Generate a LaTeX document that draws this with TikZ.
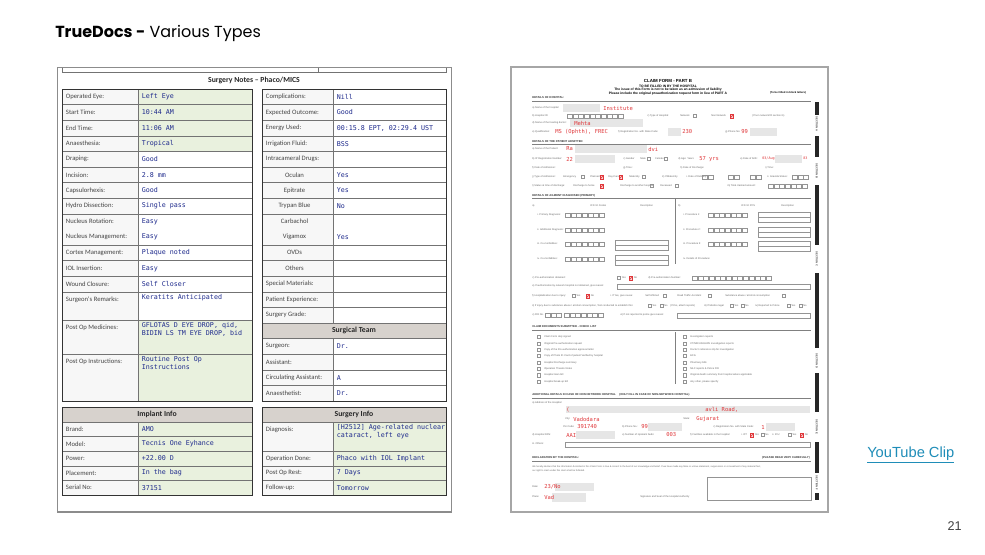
\documentclass[tikz,border=0pt]{standalone}
\usepackage{fontspec}
\setmainfont{Liberation Sans}
\newfontfamily\carl{Carlito}
\newfontfamily\dmono{DejaVu Sans Mono}
\newfontfamily\popp{Poppins}
\definecolor{valblue}{HTML}{1E2A8C}
\definecolor{labgray}{HTML}{444444}
\definecolor{greenfill}{HTML}{E9F1DE}
\definecolor{labfill}{HTML}{F7F7F7}
\definecolor{hdrfill}{HTML}{D7D2CD}
\definecolor{framegray}{HTML}{8C8C8C}
\definecolor{formred}{HTML}{E0383B}
\definecolor{redact}{HTML}{E6E6E6}
\definecolor{linkteal}{HTML}{1F8DB8}
\tikzset{
  lab/.style={font=\carl\fontsize{5}{6}\selectfont, text=labgray, anchor=west, inner sep=0},
  val/.style={font=\dmono\fontsize{5}{6}\selectfont, text=valblue, anchor=west, inner sep=0, align=left},
  hdr/.style={font=\carl\bfseries\fontsize{5.8}{7}\selectfont, text=black!85, inner sep=0},
  cell/.style={draw=black!55, line width=0.4pt},
  tborder/.style={draw=black!80, line width=0.7pt},
  fl/.style={font=\fontsize{1.9}{2.2}\selectfont, text=black!60, anchor=west, inner sep=0},
  fh/.style={font=\bfseries\fontsize{2.1}{2.4}\selectfont, text=black!80, anchor=west, inner sep=0},
  fr/.style={font=\dmono\fontsize{4.1}{4.5}\selectfont, text=formred, anchor=west, inner sep=0},
  bx/.style={draw=black!42, line width=0.25pt},
  fline/.style={draw=black!50, line width=0.4pt},
  sect/.style={rotate=-90, font=\bfseries\fontsize{2}{2}\selectfont, text=black!75, inner sep=0},
}
\newcommand\cellrow[8]{%
  \pgfmathsetmacro\ymid{(#4+#5)/2}
  \fill[labfill] (#1,#4) rectangle (#2,#5);
  \fill[#6] (#2,#4) rectangle (#3,#5);
  \draw[cell] (#1,#4) rectangle (#3,#5) (#2,#4) -- (#2,#5);
  \node[lab] at ({#1+3.7},\ymid) {#7};
  \node[val] at ({#2+3.5},\ymid) {#8};
}
\newcommand\cellrowc[8]{%
  \pgfmathsetmacro\ymid{(#4+#5)/2}
  \fill[labfill] (#1,#4) rectangle (#2,#5);
  \fill[#6] (#2,#4) rectangle (#3,#5);
  \draw[cell] (#1,#4) rectangle (#3,#5) (#2,#4) -- (#2,#5);
  \node[lab, anchor=center] at ({(#1+#2)/2-3},\ymid) {#7};
  \node[val] at ({#2+3.5},\ymid) {#8};
}
\newcommand\cellrowt[8]{%
  \fill[labfill] (#1,#4) rectangle (#2,#5);
  \fill[#6] (#2,#4) rectangle (#3,#5);
  \draw[cell] (#1,#4) rectangle (#3,#5) (#2,#4) -- (#2,#5);
  \node[lab] at ({#1+3.7},{#4+8}) {#7};
  \node[val, anchor=north west] at ({#2+3.5},{#4+2}) {#8};
}
\newcommand\flab[3]{\node[fl] at (#1,#2) {#3};}
\newcommand\fred[3]{\node[fr] at (#1,#2) {#3};}
\newcommand\ckb[2]{\draw[bx] ({#1},{#2-1.6}) rectangle ++(3.2,3.2);}
\newcommand\ckr[2]{\draw[formred,fill=formred!20,line width=0.3pt] ({#1},{#2-1.7}) rectangle ++(3.4,3.4);
  \draw[formred,line width=0.4pt] ({#1+0.7},{#2}) -- ({#1+1.5},{#2+1}) -- ({#1+2.8},{#2-1.2});}
\newcommand\bxrow[3]{\foreach \k in {1,...,#3}{\draw[bx] ({#1+(\k-1)*5.7},{#2-2.3}) rectangle ++(5,4.6);}}
\newcommand\rdc[4]{\fill[redact] (#1,#2) rectangle (#3,#4);}
\begin{document}
\begin{tikzpicture}[x=0.75pt,y=-0.75pt]
\useasboundingbox (0,0) rectangle (985,554);
\fill[white] (0,0) rectangle (985,554);

% ---------- slide texts ----------
\node[anchor=west, inner sep=0, font=\popp\fontsize{12}{14}\selectfont] (title) at (55,33) {\textbf{TrueDocs -} Various Types};
\node[anchor=west, inner sep=0, font=\fontsize{11}{13}\selectfont, text=linkteal] (yt) at (867,455) {\underline{YouTube Clip}};
\node[anchor=east, inner sep=0, font=\fontsize{9.5}{11}\selectfont, text=black!75] (pg) at (962,526) {21};

% ---------- left document ----------
\draw[framegray, line width=1.1pt] (57.5,67.5) rectangle (451.5,512);
\draw[cell] (62,67.5) -- (62,72) -- (446,72) -- (446,67.5) (318,67.5) -- (318,72);
\node[hdr] at (254,80.5) {Surgery Notes – Phaco/MICS};

% left column
\cellrow{62}{138}{252}{89}{104.6}{greenfill}{Operated Eye:}{Left Eye}
\cellrow{62}{138}{252}{104.6}{120.2}{greenfill}{Start Time:}{10:44 AM}
\cellrow{62}{138}{252}{120.2}{135.8}{greenfill}{End Time:}{11:06 AM}
\cellrow{62}{138}{252}{135.8}{151.4}{greenfill}{Anaesthesia:}{Tropical}
\cellrow{62}{138}{252}{151.4}{167}{white}{Draping:}{Good}
\cellrow{62}{138}{252}{167}{182.6}{white}{Incision:}{2.8 mm}
\cellrow{62}{138}{252}{182.6}{198.2}{white}{Capsulorhexis:}{Good}
\cellrow{62}{138}{252}{198.2}{213.8}{white}{Hydro Dissection:}{Single pass}
\cellrow{62}{138}{252}{213.8}{245}{white}{}{}
\node[lab] at (65.7,221.6) {Nucleus Rotation:};
\node[val] at (141.5,221.6) {Easy};
\node[lab] at (65.7,237.2) {Nucleus Management:};
\node[val] at (141.5,237.2) {Easy};
\cellrow{62}{138}{252}{245}{260.6}{white}{Cortex Management:}{Plaque noted}
\cellrow{62}{138}{252}{260.6}{276.2}{white}{IOL Insertion:}{Easy}
\cellrow{62}{138}{252}{276.2}{291.8}{white}{Wound Closure:}{Self Closer}
\cellrowt{62}{138}{252}{291.8}{320}{white}{Surgeon's Remarks:}{Keratits Anticipated}
\cellrowt{62}{138}{252}{320}{354.2}{greenfill}{Post Op Medicines:}{GFLOTAS D EYE DROP, qid,\\BIDIN LS TM EYE DROP, bid}
\cellrowt{62}{138}{252}{354.2}{401}{greenfill}{Post Op Instructions:}{Routine Post Op\\Instructions}
\draw[tborder] (62,89) rectangle (252,401);

% right column
\cellrow{262}{333}{446}{89}{104.6}{white}{Complications:}{Nill}
\cellrow{262}{333}{446}{104.6}{120.2}{white}{Expected Outcome:}{Good}
\cellrow{262}{333}{446}{120.2}{135.8}{white}{Energy Used:}{00:15.8 EPT, 02:29.4 UST}
\cellrow{262}{333}{446}{135.8}{151.4}{white}{Irrigation Fluid:}{BSS}
\cellrow{262}{333}{446}{151.4}{167}{white}{Intracameral Drugs:}{}
\cellrowc{262}{333}{446}{167}{182.6}{white}{Oculan}{Yes}
\cellrowc{262}{333}{446}{182.6}{198.2}{white}{Epitrate}{Yes}
\cellrowc{262}{333}{446}{198.2}{213.8}{white}{Trypan Blue}{No}
\cellrow{262}{333}{446}{213.8}{245}{white}{}{}
\node[lab, anchor=center] at (294.5,221.6) {Carbachol};
\node[lab, anchor=center] at (294.5,237.2) {Vigamox};
\node[val] at (336.5,237.2) {Yes};
\cellrowc{262}{333}{446}{245}{260.6}{white}{OVDs}{}
\cellrowc{262}{333}{446}{260.6}{276.2}{white}{Others}{}
\cellrow{262}{333}{446}{276.2}{291.8}{white}{Special Materials:}{}
\cellrow{262}{333}{446}{291.8}{307.4}{white}{Patient Experience:}{}
\cellrow{262}{333}{446}{307.4}{323}{white}{Surgery Grade:}{}
\fill[hdrfill] (262,323) rectangle (446,338.6);
\draw[cell] (262,323) rectangle (446,338.6);
\node[hdr] at (354,330.8) {Surgical Team};
\cellrow{262}{333}{446}{338.6}{354.2}{white}{Surgeon:}{Dr.}
\cellrow{262}{333}{446}{354.2}{369.8}{white}{Assistant:}{}
\cellrow{262}{333}{446}{369.8}{385.4}{white}{Circulating Assistant:}{A}
\cellrow{262}{333}{446}{385.4}{401}{white}{Anaesthetist:}{Dr.}
\draw[tborder] (262,89) rectangle (446,401);

% implant info
\fill[hdrfill] (62,407) rectangle (252,422);
\draw[cell] (62,407) rectangle (252,422);
\node[hdr] at (157,414.5) {Implant Info};
\cellrow{62}{138}{252}{422}{436.6}{greenfill}{Brand:}{AMO}
\cellrow{62}{138}{252}{436.6}{451.2}{greenfill}{Model:}{Tecnis One Eyhance}
\cellrow{62}{138}{252}{451.2}{465.8}{greenfill}{Power:}{+22.00 D}
\cellrow{62}{138}{252}{465.8}{480.4}{greenfill}{Placement:}{In the bag}
\cellrow{62}{138}{252}{480.4}{495}{greenfill}{Serial No:}{37151}
\draw[tborder] (62,407) rectangle (252,495);

% surgery info
\fill[hdrfill] (262,407) rectangle (446,422);
\draw[cell] (262,407) rectangle (446,422);
\node[hdr] at (354,414.5) {Surgery Info};
\cellrowt{262}{333}{446}{422}{451.2}{greenfill}{Diagnosis:}{[H2512] Age-related nuclear\\cataract, left eye}
\cellrow{262}{333}{446}{451.2}{465.8}{greenfill}{Operation Done:}{Phaco with IOL Implant}
\cellrow{262}{333}{446}{465.8}{480.4}{greenfill}{Post Op Rest:}{7 Days}
\cellrow{262}{333}{446}{480.4}{495}{greenfill}{Follow-up:}{Tomorrow}
\draw[tborder] (262,407) rectangle (446,495);

% ---------- claim form ----------
\draw[black!35, line width=1.4pt] (511,67) rectangle (828,512);
\node[font=\bfseries\fontsize{3.3}{3.6}\selectfont, inner sep=0] at (668,81) {CLAIM FORM - PART B};
\node[font=\bfseries\fontsize{2.5}{2.8}\selectfont, inner sep=0] at (668,86) {TO BE FILLED IN BY THE HOSPITAL};
\node[font=\bfseries\fontsize{2.5}{2.8}\selectfont, inner sep=0] at (668,90) {The issue of this Form is not to be taken as an admission of liability};
\node[font=\bfseries\fontsize{2.5}{2.8}\selectfont, inner sep=0] at (668,94) {Please include the original preauthorization request form in lieu of PART A};
\node[font=\bfseries\fontsize{2}{2.3}\selectfont, inner sep=0] at (788,92.5) {(To be Filled in block letters)};

% sidebar
\foreach \a/\b in {102/115, 136/157, 185/245, 273/348, 373/412, 442/473, 493/500}{\fill[black!85] (815,\a) rectangle (818.5,\b);}
\node[sect] at (816.8,124) {SECTION A};
\node[sect] at (816.8,171) {SECTION B};
\node[sect] at (816.8,259) {SECTION C};
\node[sect] at (816.8,361) {SECTION D};
\node[sect] at (816.8,427) {SECTION E};
\node[sect] at (816.8,483) {SECTION F};

% details of hospital
\node[fh] at (532,98) {DETAILS OF HOSPITAL:};
\draw[fline] (532,101) -- (811,101);
\flab{532}{108}{a) Name of the hospital:}
\rdc{563}{104}{600}{112}
\fred{603}{108}{Institute}
\flab{532}{116}{b) Hospital ID:}
\bxrow{567}{116}{10}
\flab{647}{116}{c) Type of Hospital:}
\flab{680}{116}{Network} \ckb{693}{116}
\flab{711}{116}{Non Network} \ckr{730}{116}
\flab{752}{116}{(If non network fill section G)}
\flab{532}{123}{d) Name of the treating doctor:}
\rdc{570}{119}{643}{127}
\fred{574}{123}{Mehta}
\flab{532}{132}{e) Qualification:}
\fred{555}{132}{MS (Ophth), FREC}
\flab{618}{132}{f) Registration No. with State Code:}
\rdc{668}{128}{681}{136}
\fred{682}{132}{230}
\flab{725}{132}{g) Phone No:}
\fred{741}{132}{99}
\rdc{750}{128}{777}{136}

% patient
\node[fh] at (532,142) {DETAILS OF THE PATIENT ADMITTED};
\draw[fline] (532,144) -- (811,144);
\flab{532}{149}{a) Name of the Patient:}
\fred{566}{149}{Ra}
\rdc{575}{145}{647}{153}
\fred{648}{149}{dvi}
\flab{532}{159}{b) IP Registration Number:}
\fred{566}{159}{22}
\rdc{575}{155}{615}{163}
\flab{623}{159}{c) Gender} \flab{640}{159}{Male} \ckb{647}{159}
\flab{655}{159}{Female} \ckb{664}{159}
\flab{678}{159}{d) Age: Years}
\fred{699}{159}{57 yrs}
\flab{740}{159}{e) Date of birth:}
\node[fr, font=\dmono\fontsize{2.6}{3}\selectfont] at (762,158.5) {03/Aug};
\rdc{775}{155}{802}{163}
\node[fr, font=\dmono\fontsize{2.6}{3}\selectfont] at (803,158.5) {83};
\flab{532}{168}{f) Date of Admission:}
\flab{623}{168}{g) Time:}
\flab{680}{168}{h) Date of Discharge:}
\flab{765}{168}{i) Time:}
\flab{532}{177}{j) Type of Admission:}
\flab{563}{177}{Emergency} \ckb{581}{177}
\flab{590}{177}{Planned} \ckr{600}{177}
\flab{608}{177}{Day Care} \ckr{619}{177}
\flab{629}{177}{Maternity} \ckb{642}{177}
\flab{662}{177}{k) If Maternity}
\flab{686}{177}{i. Date of Delivery:}
\bxrow{702}{177}{2} \bxrow{728}{177}{2} \bxrow{750}{177}{2}
\flab{767}{177}{ii. Gravida Status:}
\bxrow{792}{177}{3}
\flab{532}{186}{l) Status at time of discharge:}
\flab{573}{186}{Discharge to home} \ckr{600}{186}
\flab{620}{186}{Discharge to another hospital} \ckb{650}{186}
\flab{660}{186}{Deceased} \ckb{675}{186}
\flab{727}{186}{m) Total claimed amount:}
\bxrow{768}{186}{7}

% ailment
\node[fh] at (532,196) {DETAILS OF AILMENT DIAGNOSED (PRIMARY)};
\draw[fline] (532,198.5) -- (811,198.5);
\draw[fline] (675,198.5) -- (675,264);
\flab{532}{206}{a)} \flab{590}{206}{ICD 10 Codes} \flab{640}{206}{Description}
\flab{678}{206}{b)} \flab{741}{206}{ICD 10 PCS} \flab{781}{206}{Description}
\flab{537}{215}{i. Primary Diagnosis:} \bxrow{565}{215}{7}
\flab{537}{230}{ii. Additional Diagnosis:} \bxrow{565}{230}{7}
\flab{537}{244}{iii. Co-morbidities:} \bxrow{565}{244}{7}
\draw[bx] (615,240) rectangle (668,245) (615,245) rectangle (668,250);
\flab{537}{259}{iv. Co-morbidities:} \bxrow{565}{259}{7}
\draw[bx] (615,255) rectangle (668,260) (615,260) rectangle (668,265);
\flab{683}{215}{i. Procedure 1:} \bxrow{708}{215}{7}
\draw[bx] (758,212) rectangle (810,217) (758,217) rectangle (810,222);
\flab{683}{230}{ii. Procedure 2:} \bxrow{708}{230}{7}
\draw[bx] (758,227) rectangle (810,232) (758,232) rectangle (810,237);
\flab{683}{244}{iii. Procedure 3:} \bxrow{708}{244}{7}
\draw[bx] (758,241) rectangle (810,246) (758,246) rectangle (810,251);
\flab{683}{259}{iv. Details of Procedure:}

\flab{532}{278}{c) Pre-authorization obtained:}
\ckb{617}{278} \flab{621.5}{278}{Yes} \ckr{629}{278} \flab{633.5}{278}{No}
\flab{648}{278}{d) Pre-authorization Number:}
\bxrow{692}{278}{14}
\flab{532}{286}{e) If authorization by network hospital not obtained, give reason:}
\draw[bx] (617,284) rectangle (810,289);
\flab{532}{296}{f) Hospitalization due to injury:}
\ckb{572}{296} \flab{576}{296}{Yes} \ckr{586}{296} \flab{590.5}{296}{No}
\flab{610}{296}{i. If Yes, give cause:}
\flab{645}{296}{Self inflicted} \ckb{663}{296}
\flab{677}{296}{Road Traffic Accident} \ckb{708}{296}
\flab{725}{296}{Substance abuse / alcohol consumption} \ckb{782}{296}
\flab{532}{306}{ii) If injury due to substance abuse / alcohol consumption, Test conducted to establish this:}
\ckb{648}{306} \flab{652}{306}{Yes} \ckb{660}{306} \flab{664}{306}{No}
\flab{670}{306}{(If Yes, attach reports)}
\flab{704}{306}{iii) If Medico legal}
\ckb{730}{306} \flab{734}{306}{Yes} \ckb{741}{306} \flab{745}{306}{No}
\flab{755}{306}{iv) Reported to Police}
\ckb{787}{306} \flab{791}{306}{Yes} \ckb{799}{306} \flab{803}{306}{No}
\flab{532}{315}{v) FIR No.}
\bxrow{545}{315}{3} \bxrow{564}{315}{7}
\flab{620}{315}{vi) If not reported to police give reason:}
\draw[bx] (677,313) rectangle (810,318);

% checklist
\node[fh] at (532,327) {CLAIM DOCUMENTS SUBMITTED - CHECK LIST};
\draw[fline] (532,330.5) -- (811,330.5);
\draw[fline] (675,332) -- (675,384);
\foreach \t [count=\n from 0] in {Claim Form duly signed, Original Pre-authorization request, Copy of the Pre-authorization approval letter, Copy of Photo ID Card of patient Verified by hospital, Hospital Discharge summary, Operation Theatre Notes, Hospital main bill, Hospital break-up bill}{
  \ckb{537}{337+\n*6.35} \flab{544}{337+\n*6.35}{\t}}
\foreach \t [count=\n from 0] in {Investigation reports, CT/MR/USG/HPE investigation reports, Doctor's reference slip for investigation, ECG, Pharmacy bills, MLC reports \& Police FIR, Original death summary from hospital where applicable, {Any other, please specify}}{
  \ckb{683}{337+\n*6.35} \flab{690}{337+\n*6.35}{\t}}

% non network
\node[fh] at (532,395) {ADDITIONAL DETAILS IN CASE OF NON NETWORK HOSPITAL \quad (ONLY FILL IN CASE OF NON-NETWORK HOSPITAL)};
\draw[fline] (532,398) -- (811,398);
\flab{532}{403}{a) Address of the Hospital:}
\rdc{566}{406}{810}{413}
\fred{566}{409.5}{(}
\fred{705}{409.5}{avli Road,}
\flab{565}{419}{City:} \fred{573}{419}{Vadodara}
\flab{683}{419}{State:} \fred{696}{419}{Gujarat}
\flab{563}{427}{Pin Code:} \fred{577}{427}{391740}
\flab{622}{427}{b) Phone No.:} \fred{641}{427}{99}
\rdc{648}{423}{682}{431}
\flab{713}{427}{c) Registration No. with State Code:} \fred{761}{427}{1}
\rdc{766}{423}{795}{431}
\flab{532}{435}{d) Hospital PAN:} \fred{566}{435}{AAI}
\rdc{576}{431}{615}{439}
\flab{622}{435}{e) Number of inpatient beds:} \fred{666}{435}{003}
\flab{690}{435}{f) Facilities available in the hospital:}
\flab{741}{435}{i. OT:} \ckr{750}{435} \flab{754.5}{435}{Yes} \ckb{761}{435} \flab{765}{435}{No}
\flab{772}{435}{ii. ICU:} \ckb{788}{435} \flab{792}{435}{Yes} \ckr{800}{435} \flab{804.5}{435}{No}
\flab{532}{444}{iii. Others:}
\draw[bx] (565,442) rectangle (810,447);

% declaration
\node[fh] at (532,458) {DECLARATION BY THE HOSPITAL:};
\node[fh, anchor=east] at (810,458) {(PLEASE READ VERY CAREFULLY)};
\draw[fline] (532,461) -- (811,461);
\node[fl, font=\fontsize{1.75}{2}\selectfont] at (532,467) {We hereby declare that the information furnished in this Claim Form is true \& correct to the best of our knowledge and belief. If we have made any false or untrue statement, suppression or concealment of any material fact,};
\node[fl, font=\fontsize{1.75}{2}\selectfont] at (532,470.5) {our right to claim under this claim shall be forfeited.};
\draw[bx, line width=0.4pt] (707,477) rectangle (811,500);
\flab{532}{487}{Date:}
\rdc{555}{483}{594}{491}
\fred{544}{487}{23/No}
\flab{532}{497}{Place:}
\rdc{552}{493}{586}{502}
\fred{544}{497}{Vad}
\flab{640}{497}{Signature and Seal of the Hospital Authority}
\end{tikzpicture}
\end{document}
